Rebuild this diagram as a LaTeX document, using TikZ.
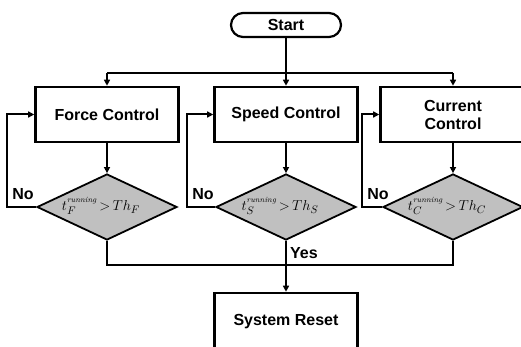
\documentclass[tikz,border=0pt]{standalone}
\usepackage{fontspec}
\newfontfamily\labfont{Liberation Sans}
\usetikzlibrary{arrows.meta,shapes.geometric,shapes.misc}
\definecolor{decgray}{RGB}{192,192,192}
\newcommand{\runsup}{\raisebox{2.5pt}{\fontsize{8}{8}\selectfont\itshape running}}
\begin{document}
\begin{tikzpicture}[x=1pt,y=-1pt,
  lab/.style={font=\labfont\bfseries\fontsize{16}{18}\selectfont},
  proc/.style={draw,line width=2.6pt,minimum width=143pt,minimum height=55pt,inner sep=0pt,lab,align=center},
  term/.style={draw,line width=2.2pt,rounded rectangle,minimum width=110pt,minimum height=24pt,inner sep=0pt,lab},
  dec/.style={draw,line width=1.8pt,fill=decgray,diamond,minimum width=140pt,minimum height=66pt,inner sep=0pt},
  conn/.style={line width=2pt},
  arr/.style={conn,-{Triangle[length=6pt,width=6pt]}},
  cond/.style={font=\fontsize{15}{17}\selectfont,inner sep=0pt},
  tag/.style={lab,inner sep=0pt}
]
\useasboundingbox (0,0) rectangle (521,347);
\clip (0,0) rectangle (521,347);
\node[term] (start) at (286,25) {Start};
\node[proc] (f) at (107,114.5) {Force Control};
\node[proc] (s) at (286,114.5) {Speed Control};
\node[proc,minimum width=145pt] (c) at (453,114.5) {Current\\Control};
\node[dec] (df) at (107,207) {};
\node[dec] (ds) at (286,207) {};
\node[dec] (dc) at (453,207) {};
\node[cond] (tf) at ([xshift=-6pt,yshift=1pt]df.center) {$t_F^{\runsup}\,{>}\,Th_F$};
\node[cond] (ts) at ([xshift=-6pt,yshift=1pt]ds.center) {$t_S^{\runsup}\,{>}\,Th_S$};
\node[cond] (tc) at ([xshift=-6pt,yshift=1pt]dc.center) {$t_C^{\runsup}\,{>}\,Th_C$};
\node[proc,minimum height=58pt] (r) at (286,322) {System Reset};
% top distribution
\coordinate (busT) at (286,73);
\draw[arr] (start.south) -- (s.north);
\draw[conn] (busT -| f) -- (busT -| c);
\draw[arr] (busT -| f) -- (f.north);
\draw[arr] (busT -| c) -- (c.north);
% box to decision
\draw[arr] (f.south) -- (df.north);
\draw[arr] (s.south) -- (ds.north);
\draw[arr] (c.south) -- (dc.north);
% feedback loops
\draw[arr] (df.west) -- ++(-29,0) |- (f.west);
\draw[arr] (ds.west) -- ++(-28,0) |- (s.west);
\draw[arr] (dc.west) -- ++(-20,0) |- (c.west);
\node[tag] (nf) at (23,194) {No};
\node[tag] (ns) at (203,194) {No};
\node[tag] (nc) at (378,194) {No};
% bottom
\coordinate (busB) at (286,265);
\draw[conn] (df.south) |- (busB -| dc) -- (dc.south);
\draw[arr] (ds.south) -- (r.north);
\node[tag,anchor=west] (yes) at (290,253) {Yes};
\end{tikzpicture}
\end{document}
